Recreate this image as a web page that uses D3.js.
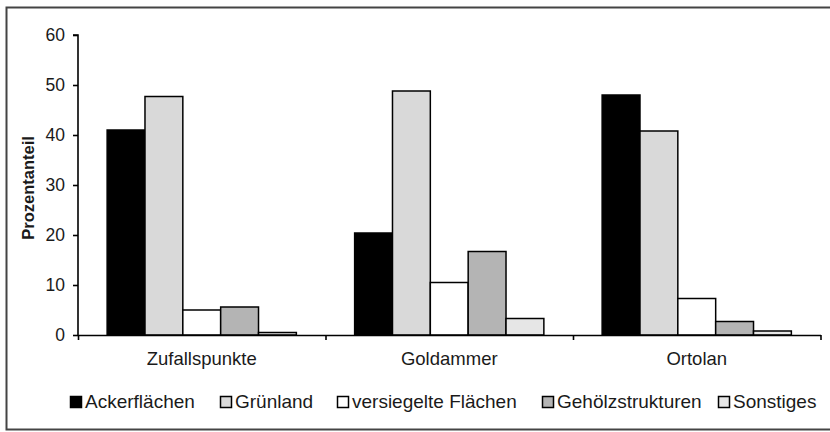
<!DOCTYPE html>
<html>
<head>
<meta charset="utf-8">
<script src="https://cdn.jsdelivr.net/npm/d3@7"></script>
<style>
  html, body { margin: 0; padding: 0; background: #fff; }
  svg { display: block; }
  text { font-family: "Liberation Sans", Arial, sans-serif; fill: #1a1a1a; }
</style>
</head>
<body>
<svg id="chart" width="830" height="432"></svg>
<script>
// Habitat shares (%) around random points and bird territories
const categories = ["Zufallspunkte", "Goldammer", "Ortolan"];
const series = ["Ackerflächen", "Grünland", "versiegelte Flächen", "Gehölzstrukturen", "Sonstiges"];
const ackerflaechen = [41, 20.4, 48];
const gruenland = [47.7, 48.8, 40.8];
const versiegelt = [5.0, 10.5, 7.3];
const gehoelz = [5.6, 16.7, 2.7];
const sonstiges = [0.5, 3.3, 0.8];
const seriesColors = ["#000000", "#d9d9d9", "#ffffff", "#b4b4b4", "#e6e6e6"];
const yTicks = [0, 10, 20, 30, 40, 50, 60];

const values = [ackerflaechen, gruenland, versiegelt, gehoelz, sonstiges];
const rows = categories.map((c, i) => ({
  category: c,
  bars: series.map((s, j) => ({ series: s, value: values[j][i], color: seriesColors[j] }))
}));

const svg = d3.select("#chart");

// outer frame (right edge runs past the canvas)
svg.append("rect")
  .attr("x", 6.5).attr("y", 7.5).attr("width", 830).attr("height", 422)
  .attr("fill", "#fff").attr("stroke", "#444").attr("stroke-width", 2);

const plot = { left: 78, right: 820.5, top: 35, bottom: 335 };

const x0 = d3.scaleBand().domain(categories).range([plot.left, plot.right]).padding(0);
const x1 = d3.scaleBand().domain(series).range([0, x0.bandwidth()]).paddingInner(0).paddingOuter(0.77);
const y = d3.scaleLinear().domain([0, 60]).range([plot.bottom, plot.top]);

// bars
const groups = svg.append("g").selectAll("g").data(rows).join("g")
  .attr("transform", d => `translate(${x0(d.category)},0)`);
groups.selectAll("rect").data(d => d.bars).join("rect")
  .attr("x", d => x1(d.series))
  .attr("y", d => y(d.value))
  .attr("width", x1.bandwidth())
  .attr("height", d => y(0) - y(d.value))
  .attr("fill", d => d.color)
  .attr("stroke", "#000")
  .attr("stroke-width", 1.5);

// y axis
const yAxis = svg.append("g")
  .attr("transform", `translate(${plot.left},0)`)
  .call(d3.axisLeft(y).tickValues(yTicks).tickSize(5).tickPadding(8));
yAxis.selectAll("path, line").attr("stroke", "#000").attr("stroke-width", 1.6);
yAxis.select(".domain").attr("d", `M-5,${y(60)}H0V${y(0)}`);
yAxis.selectAll("text").attr("font-size", 17.5).attr("font-family", "Liberation Sans, Arial, sans-serif").attr("fill", "#1a1a1a");

// x axis: separator ticks between categories
const xEdges = d3.scaleLinear().domain([0, categories.length]).range([plot.left, plot.right]);
const xAxis = svg.append("g")
  .attr("transform", `translate(0,${plot.bottom})`)
  .call(d3.axisBottom(xEdges).tickValues(d3.range(categories.length + 1)).tickFormat("").tickSize(5).tickSizeOuter(0));
xAxis.selectAll("path, line").attr("stroke", "#000").attr("stroke-width", 1.6);

// category labels
const xLabels = svg.append("g")
  .attr("transform", `translate(0,${plot.bottom})`)
  .call(d3.axisBottom(x0).tickSize(0).tickPadding(17));
xLabels.select(".domain").remove();
xLabels.selectAll("text").attr("font-size", 18.5).attr("font-family", "Liberation Sans, Arial, sans-serif").attr("fill", "#1a1a1a");

// y axis title
svg.append("text")
  .attr("transform", `translate(34,${(plot.top + plot.bottom) / 2 + 3}) rotate(-90)`)
  .attr("text-anchor", "middle")
  .attr("font-size", 16.5).attr("font-weight", "bold")
  .text("Prozentanteil");

// legend
const legendX = [70, 220, 337, 542, 718];
const legend = svg.append("g").selectAll("g").data(series).join("g")
  .attr("transform", (d, i) => `translate(${legendX[i]},396)`);
legend.append("rect")
  .attr("x", 0.5).attr("y", 0.5).attr("width", 11).attr("height", 11)
  .attr("fill", (d, i) => seriesColors[i]).attr("stroke", "#000").attr("stroke-width", 1.5);
legend.append("text")
  .attr("x", 15).attr("y", 12)
  .attr("font-size", 19)
  .text(d => d);
</script>
</body>
</html>
